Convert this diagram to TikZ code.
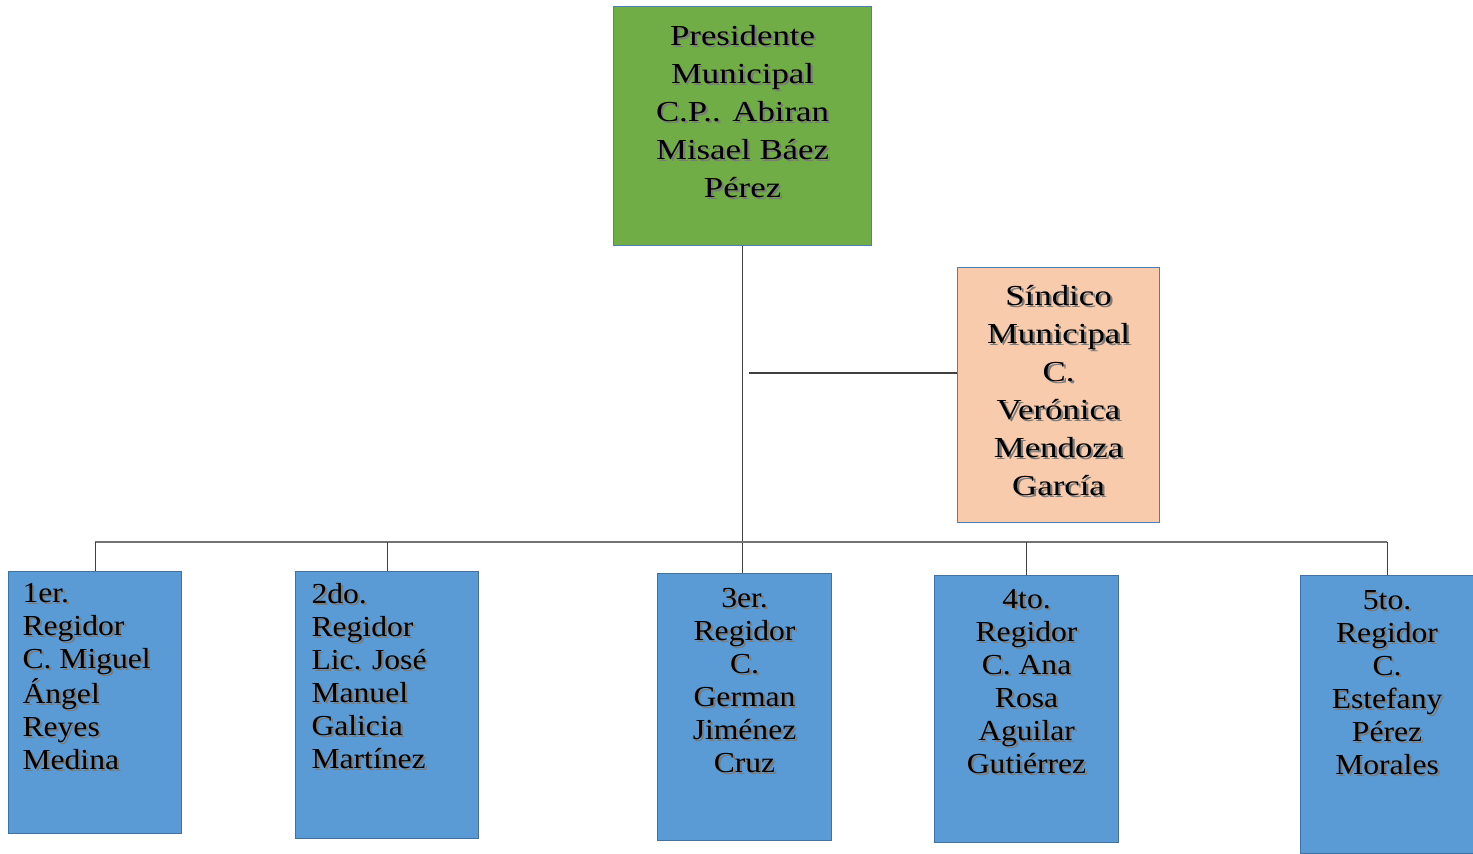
\documentclass[tikz,border=0pt]{standalone}
\usepackage{fontspec}
\setmainfont{Liberation Serif}
\newfontfamily\topf[FakeStretch=1.2]{Liberation Serif}
\newfontfamily\botf[FakeStretch=1.09]{Liberation Serif}
\usetikzlibrary{calc}
\definecolor{pgreen}{HTML}{70AD47}
\definecolor{ppeach}{HTML}{F8CBAD}
\definecolor{pblue}{HTML}{5B9BD5}
\definecolor{pedge}{HTML}{4A7EBB}
\definecolor{bedge}{HTML}{41719C}
\definecolor{shcol}{HTML}{5A5A5A}
\newcommand\shl[1]{\leavevmode\rlap{\raisebox{-2.2pt}{\hspace{2.2pt}\textcolor{shcol!80}{#1}}}#1}
\newcommand\cbox[3]{\parbox[c][#2][t]{#1}{\centering#3\par}}
\newcommand\lbox[4]{\parbox[c][#2][t]{#1}{\raggedright\leftskip=#3\relax#4\par}}
\begin{document}
\begin{tikzpicture}[x=1pt,y=-1pt,
  box/.style={draw, line width=1.1pt, inner sep=0pt, anchor=north west, rectangle},
  conn/.style={draw=black!75, line width=1.1pt}]
\useasboundingbox (0,0) rectangle (1473,854);
% President
\node[box, fill=pgreen, draw=pedge] (P) at (613,6)
 {\cbox{258pt}{239pt}{\topf\fontsize{29}{38}\selectfont\vspace*{19pt}%
  \shl{Presidente}\\\shl{Municipal}\\\shl{C.P.. Abiran}\\\shl{Misael Báez}\\\shl{Pérez}}};
% Sindico
\node[box, fill=ppeach, draw=pedge] (S) at (957,267)
 {\cbox{202pt}{255pt}{\topf\fontsize{29}{38}\selectfont\vspace*{18pt}%
  \shl{Síndico}\\\shl{Municipal}\\\shl{C.}\\\shl{Verónica}\\\shl{Mendoza}\\\shl{García}}};
% Regidores
\node[box, fill=pblue, draw=bedge] (B1) at (8,571)
 {\lbox{173pt}{262pt}{14pt}{\botf\fontsize{29}{33}\selectfont\vspace*{12pt}%
  \shl{1er.}\\\shl{Regidor}\\\shl{C. Miguel}\\\shl{Ángel}\\\shl{Reyes}\\\shl{Medina}}};
\node[box, fill=pblue, draw=bedge] (B2) at (295,571)
 {\lbox{183pt}{267pt}{16pt}{\botf\fontsize{29}{33}\selectfont\vspace*{12pt}%
  \shl{2do.}\\\shl{Regidor}\\\shl{Lic. José}\\\shl{Manuel}\\\shl{Galicia}\\\shl{Martínez}}};
\node[box, fill=pblue, draw=bedge] (B3) at (657,573)
 {\cbox{174pt}{267pt}{\botf\fontsize{29}{33}\selectfont\vspace*{15pt}%
  \shl{3er.}\\\shl{Regidor}\\\shl{C.}\\\shl{German}\\\shl{Jiménez}\\\shl{Cruz}}};
\node[box, fill=pblue, draw=bedge] (B4) at (934,575)
 {\cbox{184pt}{267pt}{\botf\fontsize{29}{33}\selectfont\vspace*{14pt}%
  \shl{4to.}\\\shl{Regidor}\\\shl{C. Ana}\\\shl{Rosa}\\\shl{Aguilar}\\\shl{Gutiérrez}}};
\node[box, fill=pblue, draw=bedge] (B5) at (1300,575)
 {\cbox{173pt}{278pt}{\botf\fontsize{29}{33}\selectfont\vspace*{15pt}%
  \shl{5to.}\\\shl{Regidor}\\\shl{C.}\\\shl{Estefany}\\\shl{Pérez}\\\shl{Morales}}};
% connectors
\coordinate (bus) at (0,542);
\coordinate (sj) at (749,373);
\draw[conn] (P.south) -- (P.south |- B3.north);
\draw[conn] (sj) -- (sj -| S.west);
\draw[conn, draw=black!55] (B1.north |- bus) -- (B5.north |- bus);
\foreach \b in {B1,B2,B4,B5}{\draw[conn] (\b.north |- bus) -- (\b.north);}
\end{tikzpicture}
\end{document}
